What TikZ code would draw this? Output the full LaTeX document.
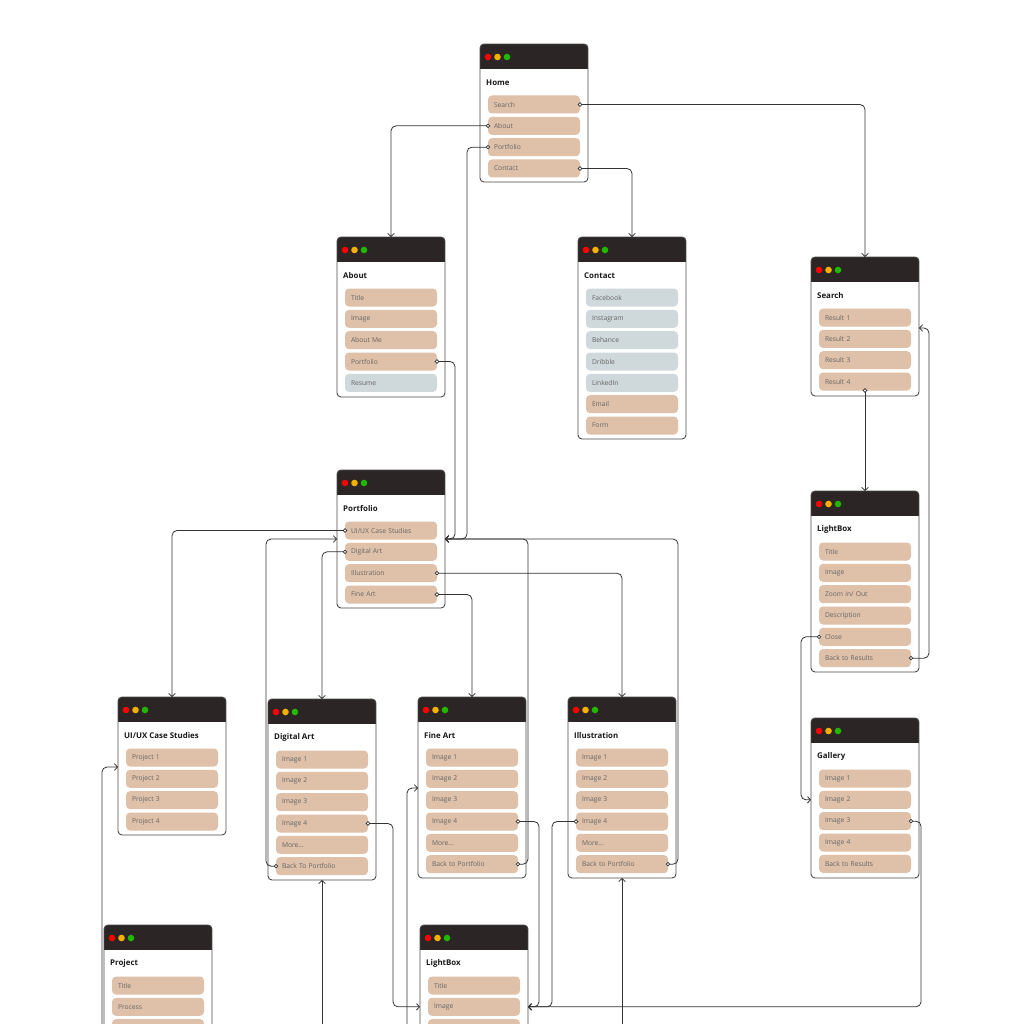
\documentclass[tikz,border=0pt]{standalone}
\usepackage{fontspec}
\setmainfont{Open Sans}
\usetikzlibrary{calc,arrows.meta}
\definecolor{barc}{HTML}{2B2625}
\definecolor{beige}{HTML}{DFC0A8}
\definecolor{greyi}{HTML}{CFD8DB}
\definecolor{itxt}{HTML}{666666}
\definecolor{lnc}{HTML}{333333}
\definecolor{wbord}{HTML}{4A4A4A}
\definecolor{dred}{HTML}{FF0000}
\definecolor{dorg}{HTML}{F6B100}
\definecolor{dgrn}{HTML}{22B800}
\tikzset{
 win/.style={anchor=north west, minimum width=108pt, inner sep=0pt, outer sep=0pt, fill=white},
 item/.style={fill=beige, rounded corners=4pt, minimum height=18pt, text width=80pt, inner xsep=6pt, inner ysep=0pt, outer sep=0pt, align=left, font=\fontsize{6.7}{7.5}\selectfont, text=itxt},
 gitem/.style={item, fill=greyi},
 wtitle/.style={anchor=west, inner sep=0pt, font=\bfseries\fontsize{7.9}{9}\selectfont, text=black!90},
 conn/.style={draw=lnc, line width=0.8pt, rounded corners=5pt, -{Straight Barb[length=3pt,width=6.5pt]}},
 cdot/.style={draw=lnc, fill=white, line width=0.7pt},
}
\newcommand\mkwin[5]{%
 \node[win, minimum height=#4pt] (#1) at (#2,#3) {};
 \begin{scope}
 \clip[rounded corners=4pt] (#1.north west) rectangle (#1.south east);
 \fill[barc] (#1.north west) rectangle ($(#1.north east)+(0,25)$);
 \end{scope}
 \draw[wbord, line width=0.9pt, rounded corners=4pt] (#1.north west) rectangle (#1.south east);
 \fill[dred] ($(#1.north west)+(8,13)$) circle (3.3pt);
 \fill[dorg] ($(#1.north west)+(17.5,13)$) circle (3.3pt);
 \fill[dgrn] ($(#1.north west)+(27,13)$) circle (3.3pt);
 \node[wtitle] (#1T) at ($(#1.north west)+(6,38.5)$) {#5};
}
\newcommand\itm[5]{\node[#4] (#2) at ($(#1.north west)+(54,{60.5+21.333*#3})$) {#5};}
\begin{document}
\begin{tikzpicture}[x=1pt,y=-1pt]
\useasboundingbox (0,0) rectangle (1024,1024);
\clip (0,0) rectangle (1024,1024);
\fill[white] (0,0) rectangle (1024,1024);

% windows
\mkwin{H}{480}{44}{138}{Home}
\itm{H}{H1}{0}{item}{Search}
\itm{H}{H2}{1}{item}{About}
\itm{H}{H3}{2}{item}{Portfolio}
\itm{H}{H4}{3}{item}{Contact}

\mkwin{A}{337}{237}{160}{About}
\itm{A}{A1}{0}{item}{Title}
\itm{A}{A2}{1}{item}{Image}
\itm{A}{A3}{2}{item}{About Me}
\itm{A}{A4}{3}{item}{Portfolio}
\itm{A}{A5}{4}{gitem}{Resume}

\mkwin{C}{578}{237}{202}{Contact}
\itm{C}{C1}{0}{gitem}{Facebook}
\itm{C}{C2}{1}{gitem}{Instagram}
\itm{C}{C3}{2}{gitem}{Behance}
\itm{C}{C4}{3}{gitem}{Dribble}
\itm{C}{C5}{4}{gitem}{LinkedIn}
\itm{C}{C6}{5}{item}{Email}
\itm{C}{C7}{6}{item}{Form}

\mkwin{S}{811}{257}{139}{Search}
\itm{S}{S1}{0}{item}{Result 1}
\itm{S}{S2}{1}{item}{Result 2}
\itm{S}{S3}{2}{item}{Result 3}
\itm{S}{S4}{3}{item}{Result 4}

\mkwin{L}{811}{491}{181}{LightBox}
\itm{L}{L1}{0}{item}{Title}
\itm{L}{L2}{1}{item}{Image}
\itm{L}{L3}{2}{item}{Zoom in/ Out}
\itm{L}{L4}{3}{item}{Description}
\itm{L}{L5}{4}{item}{Close}
\itm{L}{L6}{5}{item}{Back to Results}

\mkwin{G}{811}{718}{160}{Gallery}
\itm{G}{G1}{0}{item}{Image 1}
\itm{G}{G2}{1}{item}{Image 2}
\itm{G}{G3}{2}{item}{Image 3}
\itm{G}{G4}{3}{item}{Image 4}
\itm{G}{G5}{4}{item}{Back to Results}

\mkwin{P}{337}{470}{138}{Portfolio}
\itm{P}{P1}{0}{item}{UI/UX Case Studies}
\itm{P}{P2}{1}{item}{Digital Art}
\itm{P}{P3}{2}{item}{Illustration}
\itm{P}{P4}{3}{item}{Fine Art}

\mkwin{U}{118}{697}{138}{UI/UX Case Studies}
\itm{U}{U1}{0}{item}{Project 1}
\itm{U}{U2}{1}{item}{Project 2}
\itm{U}{U3}{2}{item}{Project 3}
\itm{U}{U4}{3}{item}{Project 4}

\mkwin{D}{268}{699}{181}{Digital Art}
\itm{D}{D1}{0}{item}{Image 1}
\itm{D}{D2}{1}{item}{Image 2}
\itm{D}{D3}{2}{item}{Image 3}
\itm{D}{D4}{3}{item}{Image 4}
\itm{D}{D5}{4}{item}{More...}
\itm{D}{D6}{5}{item}{Back To Portfolio}

\mkwin{F}{418}{697}{181}{Fine Art}
\itm{F}{F1}{0}{item}{Image 1}
\itm{F}{F2}{1}{item}{Image 2}
\itm{F}{F3}{2}{item}{Image 3}
\itm{F}{F4}{3}{item}{Image 4}
\itm{F}{F5}{4}{item}{More...}
\itm{F}{F6}{5}{item}{Back to Portfolio}

\mkwin{I}{568}{697}{181}{Illustration}
\itm{I}{I1}{0}{item}{Image 1}
\itm{I}{I2}{1}{item}{Image 2}
\itm{I}{I3}{2}{item}{Image 3}
\itm{I}{I4}{3}{item}{Image 4}
\itm{I}{I5}{4}{item}{More...}
\itm{I}{I6}{5}{item}{Back to Portfolio}

\mkwin{J}{104}{925}{200}{Project}
\itm{J}{J1}{0}{item}{Title}
\itm{J}{J2}{1}{item}{Process}
\itm{J}{J3}{2}{item}{}

\mkwin{B}{420}{925}{200}{LightBox}
\itm{B}{B1}{0}{item}{Title}
\itm{B}{B2}{1}{item}{Image}
\itm{B}{B3}{2}{item}{}

% helper coordinates
\coordinate (Sin) at ($(S.north east)+(0,71)$);
\coordinate (Gin) at (G.west |- G2.center);
\coordinate (Bin) at (B.east |- B2.center);
\coordinate (Bwin) at (B.west |- B2.center);
\coordinate (Uin) at ($(U.north west)+(0,70)$);
\coordinate (Fin) at ($(F.north west)+(0,91)$);
\coordinate (Ubot) at (102,1040);
\coordinate (Fbot) at (407,1040);
\coordinate (Dbot) at (322,1040);
\coordinate (Ibot) at (622,1040);

% connectors
\draw[conn] (H1.east) -| (S.north);
\draw[conn] (H2.west) -| (A.north);
\draw[conn] (H3.west) -| ([xshift=22pt]P.east) -- (P.east);
\draw[conn] (H4.east) -| (C.north);
\draw[conn] (A4.east) -| ([xshift=10pt]P.east) -- (P.east);
\draw[conn] (S4.south) -- (L.north);
\draw[conn] (L6.east) -- ++(18,0) |- (Sin);
\draw[conn] (L5.west) -- ++(-18,0) |- (Gin);
\draw[conn] (G3.east) -- ++(10,0) |- (Bin);
\draw[conn] (P1.west) -| (U.north);
\draw[conn] (P2.west) -| (D.north);
\draw[conn] (P3.east) -| (I.north);
\draw[conn] (P4.east) -| (F.north);
\draw[conn] (D6.west) -- ++(-10,0) |- (P.west);
\draw[conn] (F6.east) -- ++(10,0) |- (P.east);
\draw[conn] (I6.east) -- ++(10,0) |- (P.east);
\draw[conn] (D4.east) -- ++(25,0) |- (Bwin);
\draw[conn] (F4.east) -- ++(21,0) |- (Bin);
\draw[conn] (I4.west) -- ++(-24,0) |- (Bin);
\draw[conn] (Ubot) |- (Uin);
\draw[conn] (Fbot) |- (Fin);
\draw[conn] (Dbot) -- (D.south);
\draw[conn] (Ibot) -- (I.south);

% start dots
\foreach \p in {H1.east,H2.west,H3.west,H4.east,A4.east,P1.west,P2.west,P3.east,P4.east,S4.south,L5.west,L6.east,G3.east,D4.east,D6.west,F4.east,F6.east,I4.west,I6.east}
 \draw[cdot] (\p) circle (1.8pt);
\end{tikzpicture}
\end{document}
